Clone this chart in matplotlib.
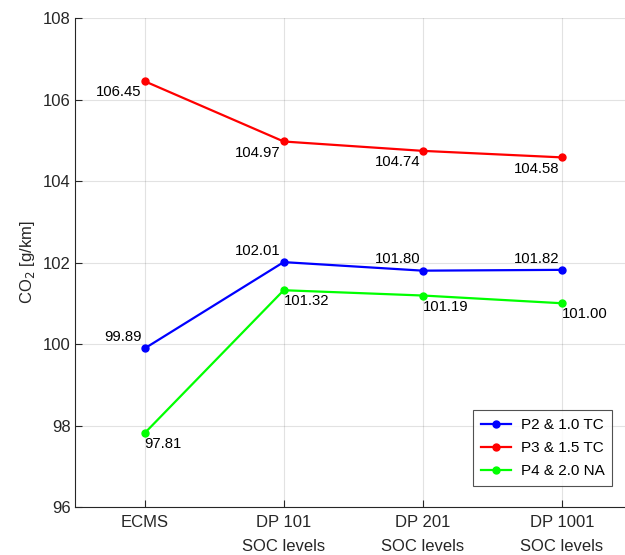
import matplotlib
matplotlib.use("Agg")
import matplotlib.pyplot as plt

plt.rcParams['font.family'] = ['Liberation Sans', 'DejaVu Sans']

categories = ["ECMS", "DP 101\nSOC levels", "DP 201\nSOC levels", "DP 1001\nSOC levels"]
p2_values = [99.89, 102.01, 101.80, 101.82]
p3_values = [106.45, 104.97, 104.74, 104.58]
p4_values = [97.81, 101.32, 101.19, 101.00]
series_names = ["P2 & 1.0 TC", "P3 & 1.5 TC", "P4 & 2.0 NA"]
y_ticks = [96, 98, 100, 102, 104, 106, 108]

axis_gray = "#262626"

fig = plt.figure(figsize=(6.25, 5.55), dpi=100)
ax = fig.add_axes([0.12, 0.0865, 0.8904, 0.881])

x = list(range(1, len(categories) + 1))

series = [
    (p2_values, (0, 0, 1), "right", "bottom", (-2, 3)),
    (p3_values, (1, 0, 0), "right", "top", (-2, -3)),
    (p4_values, (0, 1, 0), "left", "top", (0, -3)),
]

for (vals, color, ha, va, off), name in zip(series, series_names):
    ax.plot(x, vals, color=color, lw=1.6, marker="o", ms=5, label=name)
    for xi, v in zip(x, vals):
        ax.annotate(f"{v:.2f}", (xi, v), xytext=off, textcoords="offset points",
                    ha=ha, va=va, fontsize=10.7, color="black")

ax.set_xlim(0.5, 4.5)
ax.set_ylim(96, 108)
ax.set_xticks(x)
ax.set_xticklabels(categories, linespacing=1.7)
ax.set_yticks(y_ticks)
ax.set_ylabel("CO$_2$ [g/km]", fontsize=12, color=axis_gray, labelpad=4)

ax.grid(True, color=axis_gray, alpha=0.13, lw=0.8)
ax.set_axisbelow(True)
ax.tick_params(direction="in", length=5, width=0.8, colors=axis_gray,
               labelsize=12)
ax.tick_params(axis="y", pad=3)
ax.tick_params(axis="x", pad=6)
for side in ("top", "right"):
    ax.spines[side].set_visible(False)
for side in ("left", "bottom"):
    ax.spines[side].set_color(axis_gray)
    ax.spines[side].set_linewidth(0.8)

leg = ax.legend(loc="lower right", bbox_to_anchor=(0.965, 0.043), fontsize=11,
                frameon=True, fancybox=False, edgecolor=axis_gray,
                handlelength=2.0, borderpad=0.5, labelspacing=0.6,
                handletextpad=0.6, borderaxespad=0)
leg.get_frame().set_linewidth(0.8)

fig.savefig("out.png", dpi=100)
